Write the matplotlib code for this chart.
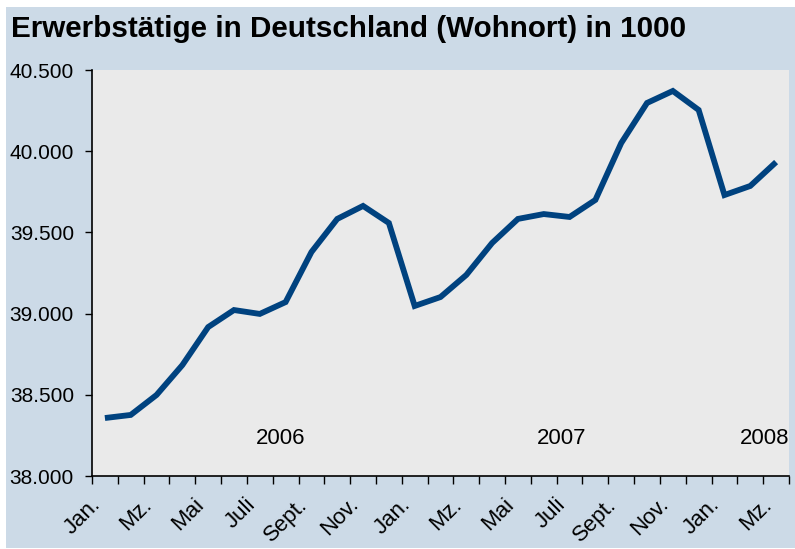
"""Erwerbstätige in Deutschland (Wohnort), monthly 2006-2008."""

import matplotlib
matplotlib.use("Agg")
import matplotlib.pyplot as plt
import numpy as np
from matplotlib.patches import Rectangle
from matplotlib.ticker import FuncFormatter
from matplotlib.transforms import ScaledTranslation

TITLE = "Erwerbstätige in Deutschland (Wohnort) in 1000"

# Jan. 2006 .. Mz. 2008, in 1000
months = ["Jan.", "Feb.", "Mz.", "Apr.", "Mai", "Juni", "Juli", "Aug.", "Sept.", "Okt.", "Nov.", "Dez."] * 2 \
    + ["Jan.", "Feb.", "Mz."]
employed = [
    38357, 38376, 38499, 38683, 38917, 39022, 38998, 39071, 39379, 39583, 39663, 39558,
    39047, 39102, 39238, 39435, 39583, 39613, 39595, 39700, 40050, 40297, 40371, 40254,
    39730, 39786, 39933,
]
years = ["2006", "2007", "2008"]
yticks = [38000, 38500, 39000, 39500, 40000, 40500]

PANEL = "#CCDAE7"
PLOT_BG = "#EAEAEA"
LINE = "#00427F"
FONT = "Liberation Sans"

plt.rcParams["font.family"] = [FONT, "DejaVu Sans"]

fig = plt.figure(figsize=(7.95, 5.49), dpi=100)
fig.patches.append(Rectangle((6 / 795, 1 - 548 / 549), 789 / 795, 541 / 549,
                             transform=fig.transFigure, facecolor=PANEL, edgecolor="none", zorder=-1))
fig.text(11 / 795, 1 - 37 / 549, TITLE, fontsize=21.3, fontweight="bold", va="baseline")

ax = fig.add_axes([92 / 795, 1 - 476 / 549, 697 / 795, 406 / 549])
ax.set_facecolor(PLOT_BG)

x = np.arange(len(employed))
ax.plot(x, employed, color=LINE, lw=4.2, solid_joinstyle="miter", solid_capstyle="butt")

ax.set_xlim(-0.5, len(employed) - 0.5)
ax.set_ylim(yticks[0], yticks[-1])
ax.set_yticks(yticks)
ax.yaxis.set_major_formatter(FuncFormatter(lambda v, _: f"{v:,.0f}".replace(",", ".")))
ax.tick_params(axis="y", length=5, width=1, pad=8, labelsize=15)

ax.set_xticks(np.arange(len(employed) + 1) - 0.5)
ax.set_xticklabels([])
ax.tick_params(axis="x", which="major", length=6, width=1, direction="out")
ax.set_xticks(x[::2], minor=True)
ax.set_xticklabels(months[::2], minor=True, rotation=45, ha="right", va="top",
                   rotation_mode="anchor", fontsize=16)
ax.tick_params(axis="x", which="minor", length=0, pad=13)
shift = ScaledTranslation(-0.15, 0, fig.dpi_scale_trans)
for lab in ax.get_xticklabels(minor=True):
    lab.set_transform(lab.get_transform() + shift)

for sp in ("top", "right"):
    ax.spines[sp].set_visible(False)
for sp in ("left", "bottom"):
    ax.spines[sp].set_linewidth(1.2)

ax.text(6.8, 38228, years[0], ha="center", va="center", fontsize=16)
ax.text(17.7, 38228, years[1], ha="center", va="center", fontsize=16)
ax.text(26.5, 38228, years[2], ha="right", va="center", fontsize=16)

fig.savefig("out.png", dpi=100, facecolor="white")
